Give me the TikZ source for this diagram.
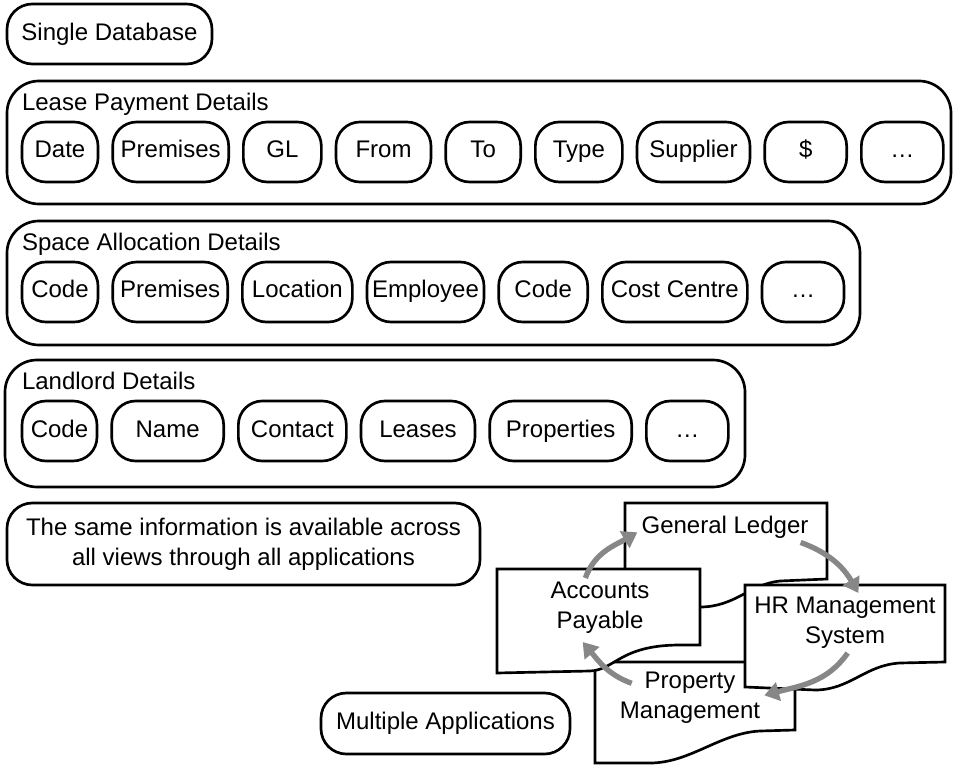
\documentclass[tikz,border=0pt]{standalone}
\usepackage{fontspec}
\setmainfont{Liberation Sans}
\usetikzlibrary{arrows.meta, positioning}

\definecolor{flowgray}{RGB}{135,135,135}

\begin{document}
\begin{tikzpicture}[
    x=0.75pt, y=0.75pt,
    node distance=11pt,
    font=\fontsize{18pt}{22.5pt}\selectfont,
    box/.style={rectangle, draw, line width=2pt, rounded corners=19pt, align=center, inner sep=0pt, outer sep=0pt},
    group/.style={rectangle, draw, line width=2pt, rounded corners=24pt, inner sep=0pt, outer sep=0pt},
    item/.style={rectangle, draw, line width=2pt, rounded corners=18pt, minimum height=45pt, inner xsep=2pt, inner ysep=0pt, outer sep=0pt, text height=13pt, text depth=4pt},
    heading/.style={inner sep=0pt, outer sep=0pt, text height=13pt, text depth=4pt},
    doc/.style={draw, fill=white, line width=2pt},
    doctext/.style={align=center, inner sep=3pt},
    flow/.style={-{Triangle[length=11pt, width=14pt]}, line width=4pt, draw=flowgray}
]
\useasboundingbox (0,0) rectangle (953,765);

% Single database
\node[box, minimum width=153.75pt, minimum height=45pt, anchor=north west] (sdb) at (7,761) {Single Database};

% Lease payment details
\node[group, minimum width=708pt, minimum height=92.25pt, below right=12.75pt and 0pt of sdb.south west] (lease) {};
\node[heading, below right=9.5pt and 11.25pt of lease.north west] (leasetitle) {Lease Payment Details};
\node[item, minimum width=57pt, below right=4.25pt and 0pt of leasetitle.south west] (ldate) {Date};
\node[item, minimum width=87pt, right=of ldate] (lpremises) {Premises};
\node[item, minimum width=58.5pt, right=of lpremises] (lgl) {GL};
\node[item, minimum width=71.25pt, right=of lgl] (lfrom) {From};
\node[item, minimum width=56.25pt, right=of lfrom] (lto) {To};
\node[item, minimum width=65.25pt, right=of lto] (ltype) {Type};
\node[item, minimum width=84.75pt, right=of ltype] (lsupplier) {Supplier};
\node[item, minimum width=61.5pt, right=of lsupplier] (lamount) {\$};
\node[item, minimum width=61.5pt, right=of lamount] (lmore) {\ldots};

% Space allocation details
\node[group, minimum width=639.75pt, minimum height=93pt, below right=12.75pt and 0pt of lease.south west] (space) {};
\node[heading, below right=9.5pt and 11.25pt of space.north west] (spacetitle) {Space Allocation Details};
\node[item, minimum width=57pt, below right=4.25pt and 0pt of spacetitle.south west] (scode) {Code};
\node[item, minimum width=86.25pt, right=of scode] (spremises) {Premises};
\node[item, minimum width=82.5pt, right=of spremises] (slocation) {Location};
\node[item, minimum width=87.75pt, right=of slocation] (semployee) {Employee};
\node[item, minimum width=66.75pt, right=of semployee] (scode2) {Code};
\node[item, minimum width=108.75pt, right=of scode2] (scentre) {Cost Centre};
\node[item, minimum width=61.5pt, right=of scentre] (smore) {\ldots};

% Landlord details
\node[group, minimum width=555pt, minimum height=95.25pt, below right=11.25pt and -1.5pt of space.south west] (landlord) {};
\node[heading, below right=9.5pt and 12.75pt of landlord.north west] (landlordtitle) {Landlord Details};
\node[item, minimum width=56.25pt, below right=4.25pt and 0pt of landlordtitle.south west] (dcode) {Code};
\node[item, minimum width=84pt, right=of dcode] (dname) {Name};
\node[item, minimum width=81pt, right=of dname] (dcontact) {Contact};
\node[item, minimum width=85.5pt, right=of dcontact] (dleases) {Leases};
\node[item, minimum width=106.5pt, right=of dleases] (dproperties) {Properties};
\node[item, minimum width=61.5pt, right=of dproperties] (dmore) {\ldots};

\node[box, minimum width=354.75pt, minimum height=61.5pt, below right=12pt and 1.5pt of landlord.south west] (shared) {The same information is available across\\all views through all applications};
\node[box, minimum width=186.75pt, minimum height=45.75pt] (multi) at (445.5,41.5) {Multiple Applications};

% Application documents, back to front
\draw[doc] (625,262) -- (827,262) -- (827,186) -- (780,184) .. controls (750,181) and (735,158) .. (700,158) -- (625,158) -- cycle;
\draw[doc] (595,103) -- (795,103) -- (795,35) -- (760,34) .. controls (720,32) and (690,2) .. (650,2) -- (595,2) -- cycle;
\draw[doc] (745,180) -- (945,180) -- (945,103) -- (900,102) .. controls (865,100) and (850,75) .. (815,75) -- (745,78) -- cycle;
\draw[doc] (497,196) -- (700,196) -- (700,120) -- (680,120) .. controls (620,120) and (615,95) .. (590,94) -- (497,92) -- cycle;

\node[doctext] (gl) at (725,238) {General Ledger};
\node[doctext] (ap) at (600,157) {Accounts\\Payable};
\node[doctext] (hr) at (845,142) {HR Management\\System};
\node[doctext] (pm) at (690,67) {Property\\Management};

% Arrows
\draw[flow] ([xshift=-11pt]ap.north) to[out=70, in=210] ([yshift=-4pt]gl.west);
\draw[flow] ([xshift=-9pt]gl.south east) to[out=-20, in=120] ([xshift=10pt]hr.north);
\draw[flow] ([xshift=2pt]hr.south) to[out=235, in=15] ([yshift=2pt]pm.east);
\draw[flow] ([xshift=12pt,yshift=11pt]pm.west) to[out=160, in=-50] ([xshift=-13pt,yshift=-3pt]ap.south);

\end{tikzpicture}
\end{document}
